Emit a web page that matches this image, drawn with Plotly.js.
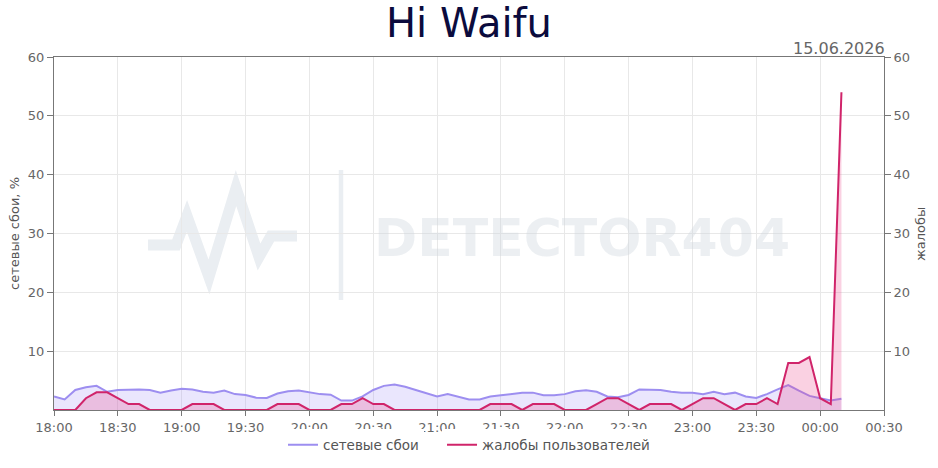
<!DOCTYPE html>
<html>
<head>
<meta charset="utf-8">
<script src="https://cdn.plot.ly/plotly-3.0.1.min.js"></script>
<style>html,body{margin:0;padding:0;background:#fff;}#chart{width:938px;height:468px;}</style>
</head>
<body>
<div id="chart"></div>
<script>
const times = [
  "18:00","18:05","18:10","18:15","18:20","18:25","18:30","18:35","18:40","18:45","18:50","18:55",
  "19:00","19:05","19:10","19:15","19:20","19:25","19:30","19:35","19:40","19:45","19:50","19:55",
  "20:00","20:05","20:10","20:15","20:20","20:25","20:30","20:35","20:40","20:45","20:50","20:55",
  "21:00","21:05","21:10","21:15","21:20","21:25","21:30","21:35","21:40","21:45","21:50","21:55",
  "22:00","22:05","22:10","22:15","22:20","22:25","22:30","22:35","22:40","22:45","22:50","22:55",
  "23:00","23:05","23:10","23:15","23:20","23:25","23:30","23:35","23:40","23:45","23:50","23:55",
  "00:00","00:05","00:10"
];
const failures = [
  2.3,1.8,3.4,3.85,4.1,3.1,3.4,3.5,3.5,3.4,2.95,3.3,
  3.6,3.5,3.1,2.95,3.3,2.7,2.55,2.1,2.05,2.8,3.2,3.3,
  3.05,2.7,2.6,1.6,1.6,2.3,3.4,4.1,4.35,3.95,3.4,2.85,
  2.3,2.7,2.3,1.8,1.8,2.3,2.5,2.7,2.95,2.95,2.5,2.5,
  2.7,3.2,3.35,3.1,2.3,2.15,2.55,3.5,3.5,3.4,3.1,2.95,
  2.95,2.7,3.1,2.7,2.95,2.3,2.05,2.7,3.5,4.25,3.3,2.4,
  2.0,1.6,1.9
];
const complaints = [
  0,0,0,2,3,3,2,1,1,0,0,0,
  0,1,1,1,0,0,0,0,0,1,1,1,
  0,0,0,1,1,2,1,1,0,0,0,0,
  0,0,0,0,0,1,1,1,0,1,1,1,
  0,0,0,1,2,2,1,0,1,1,1,0,
  1,2,2,1,0,1,1,2,1,8,8,9,
  2,1,54
];
const yTicks = [10,20,30,40,50,60];
const chartTitle = "Hi Waifu";
const dateLabel = "15.06.2026";
const seriesNames = ["сетевые сбои","жалобы пользователей"];
const leftTitle = "сетевые сбои, %";
const rightTitle = "жалобы";
const watermark = "DETECTOR404";

const toDate = t => (t < "12:00" ? "2026-06-16 " : "2026-06-15 ") + t;
const xs = times.map(toDate);

const axisCommon = {
  range:[0,60], tickvals:yTicks, showline:true, linecolor:'#777', linewidth:1,
  ticks:'outside', ticklen:6, tickcolor:'#777', tickfont:{size:13,color:'#666'},
  zeroline:false, fixedrange:true
};

const data = [
  {x:xs, y:failures, type:'scatter', mode:'lines', showlegend:false, hoverinfo:'skip',
   line:{width:0, color:'rgba(0,0,0,0)'}, fill:'tozeroy', fillcolor:'rgba(160,140,245,0.22)'},
  {x:xs, y:complaints, type:'scatter', mode:'lines', showlegend:false, hoverinfo:'skip', yaxis:'y2',
   line:{width:0, color:'rgba(0,0,0,0)'}, fill:'tozeroy', fillcolor:'rgba(235,70,140,0.25)'},
  {x:xs, y:failures, type:'scatter', mode:'lines', name:seriesNames[0], legend:'legend',
   line:{color:'#9d8ef0', width:2}},
  {x:xs, y:complaints, type:'scatter', mode:'lines', name:seriesNames[1], yaxis:'y2', legend:'legend2',
   line:{color:'#d0246a', width:2}}
];

const P = (px,py) => [((px-54)/830).toFixed(4), ((410-py)/353).toFixed(4)];
const pulse = [[148,245],[176,245],[187,216],[209,277],[236,188],[259,257],[271,236],[297,236]];
const pulsePath = pulse.map((p,i)=>{const q=P(p[0],p[1]);return (i?'L':'M')+q[0]+','+q[1];}).join(' ');
const legendFont = {size:13.5, color:'#555'};

const layout = {
  width:938, height:468,
  margin:{l:54, r:54, t:57, b:58, autoexpand:false},
  paper_bgcolor:'#fff', plot_bgcolor:'#fff',
  font:{family:'DejaVu Sans', color:'#555'},
  title:{text:chartTitle, font:{family:'DejaVu Sans', size:40, color:'#0b0b3d'},
         x:0.5, xanchor:'center', y:0.95, yref:'container', yanchor:'middle'},
  showlegend:true,
  legend:{orientation:'h', x:P(283,0)[0], xanchor:'left', y:-0.055, yanchor:'top', font:legendFont},
  legend2:{orientation:'h', x:P(442,0)[0], xanchor:'left', y:-0.055, yanchor:'top', font:legendFont},
  xaxis:{type:'date', range:['2026-06-15 18:00','2026-06-16 00:30'], tickformat:'%H:%M',
         dtick:1800000, tick0:'2026-06-15 18:00', showgrid:true, gridcolor:'#e8e8e8',
         showline:true, linecolor:'#777', mirror:true, ticks:'outside', ticklen:5, tickcolor:'#777',
         tickfont:{size:13,color:'#666'}, zeroline:false, fixedrange:true},
  yaxis:Object.assign({}, axisCommon, {showgrid:true, gridcolor:'#e8e8e8',
         title:{text:leftTitle, font:{size:13,color:'#555'}, standoff:5}}),
  yaxis2:Object.assign({}, axisCommon, {overlaying:'y', side:'right', showgrid:false}),
  shapes:[
    {type:'path', xref:'paper', yref:'paper', path:pulsePath, layer:'below',
     line:{color:'#eaeef2', width:11}},
    {type:'line', xref:'paper', yref:'paper', x0:P(341,0)[0], x1:P(341,0)[0],
     y0:P(0,170)[1], y1:P(0,300)[1], layer:'below', line:{color:'#eaeef2', width:4.5}}
  ],
  annotations:[
    {text:watermark, xref:'paper', yref:'paper', x:P(582,0)[0], y:P(0,238)[1],
     xanchor:'center', yanchor:'middle', showarrow:false,
     font:{family:'DejaVu Sans', size:52, color:'rgba(205,213,222,0.38)', weight:'bold'}},
    {text:dateLabel, xref:'paper', yref:'paper', x:1, xanchor:'right', xshift:3, y:P(0,49)[1], yanchor:'middle',
     showarrow:false, font:{size:16, color:'#666'}},
    {text:rightTitle, xref:'paper', yref:'paper', x:P(921,0)[0], y:P(0,234)[1],
     xanchor:'center', yanchor:'middle', textangle:-90, showarrow:false, font:{size:13, color:'#555'}}
  ]
};

Plotly.newPlot('chart', data, layout, {displayModeBar:false, staticPlot:true});
</script>
</body>
</html>
